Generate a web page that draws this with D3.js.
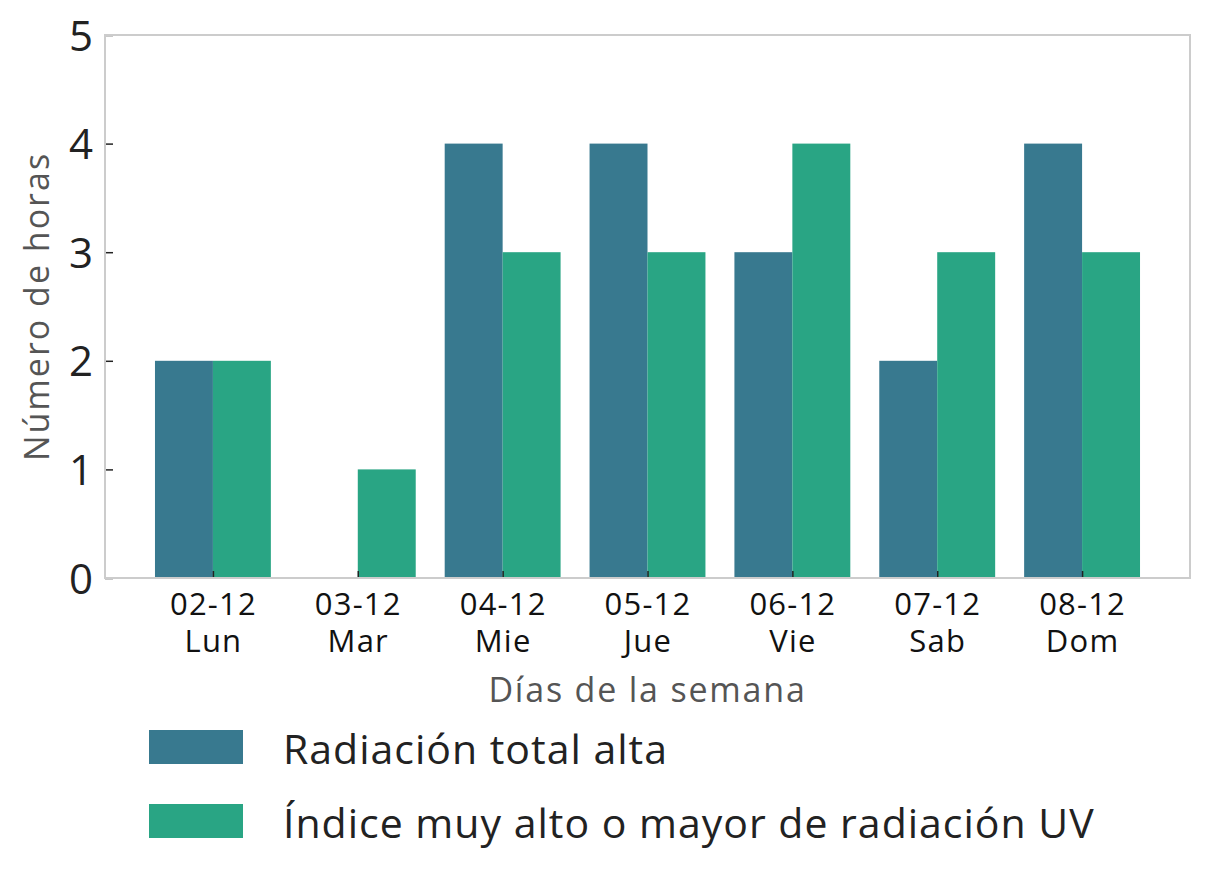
<!DOCTYPE html>
<html>
<head>
<meta charset="utf-8">
<script src="https://d3js.org/d3.v7.min.js"></script>
<style>
  body { margin: 0; background: #fff; }
  text { font-family: "Open Sans", "Noto Sans", sans-serif; }
</style>
</head>
<body>
<svg id="chart" width="1209" height="886"></svg>
<script>
// datos
var fechas = ["02-12", "03-12", "04-12", "05-12", "06-12", "07-12", "08-12"];
var dias = ["Lun", "Mar", "Mie", "Jue", "Vie", "Sab", "Dom"];
var radiacionTotal = [2, 0, 4, 4, 3, 2, 4];
var indiceUV = [2, 1, 3, 3, 4, 3, 3];
var series = ["Radiación total alta", "Índice muy alto o mayor de radiación UV"];
var colores = ["#38798f", "#29a584"];
var yTicks = [0, 1, 2, 3, 4, 5];

var svg = d3.select("#chart");
var mLeft = 105, mRight = 1190, mTop = 35, mBottom = 578;

var x = d3.scaleLinear().domain([-0.745, fechas.length - 1 + 0.745]).range([mLeft, mRight]);
var y = d3.scaleLinear().domain([0, 5]).range([mBottom, mTop]);
var w = 0.4;

// barras
[radiacionTotal, indiceUV].forEach(function(vals, s) {
  svg.append("g").selectAll("rect")
    .data(vals)
    .enter().append("rect")
      .attr("x", function(d, i) { return x(i - w + s * w); })
      .attr("width", x(w) - x(0))
      .attr("y", function(d) { return y(d); })
      .attr("height", function(d) { return y(0) - y(d); })
      .attr("fill", colores[s]);
});

// ejes
var yAxis = svg.append("g")
  .attr("transform", "translate(" + mLeft + ",0)")
  .call(d3.axisLeft(y).tickValues(yTicks).tickSize(-8).tickPadding(12).tickFormat(d3.format("d")));
yAxis.select(".domain").remove();
yAxis.selectAll("line").attr("stroke", "#222").attr("stroke-width", 1.5);
yAxis.selectAll("text").attr("font-size", 42).attr("fill", "#222").attr("dy", "0.36em");

var xAxis = svg.append("g")
  .attr("transform", "translate(0," + mBottom + ")")
  .call(d3.axisBottom(x).tickValues(d3.range(fechas.length)).tickSize(-7).tickFormat(""));
xAxis.select(".domain").remove();
xAxis.selectAll("line").attr("stroke", "#222").attr("stroke-width", 1.5);
xAxis.selectAll(".tick").each(function(d) {
  var t = d3.select(this).append("text")
    .attr("fill", "#111").attr("font-size", 31).attr("letter-spacing", 1.2)
    .attr("text-anchor", "middle");
  t.append("tspan").attr("x", 0).attr("y", 37).text(fechas[d]);
  t.append("tspan").attr("x", 0).attr("y", 74).text(dias[d]);
});

// marco
svg.append("rect")
  .attr("x", mLeft).attr("y", mTop)
  .attr("width", mRight - mLeft).attr("height", mBottom - mTop)
  .attr("fill", "none").attr("stroke", "#cccccc").attr("stroke-width", 2);

// títulos
svg.append("text")
  .attr("x", (mLeft + mRight) / 2).attr("y", 702)
  .attr("text-anchor", "middle").attr("font-size", 34).attr("letter-spacing", 1.8)
  .attr("fill", "#555")
  .text("Días de la semana");
svg.append("text")
  .attr("transform", "translate(49," + ((mTop + mBottom) / 2) + ") rotate(-90)")
  .attr("text-anchor", "middle").attr("font-size", 34).attr("letter-spacing", 2)
  .attr("fill", "#555")
  .text("Número de horas");

// leyenda
var leg = svg.append("g");
series.forEach(function(s, i) {
  leg.append("rect")
    .attr("x", 149).attr("y", 730 + i * 74)
    .attr("width", 94).attr("height", 34)
    .attr("fill", colores[i]);
  leg.append("text")
    .attr("x", 283).attr("y", 749 + i * 74).attr("dy", "0.36em")
    .attr("font-size", 41).attr("letter-spacing", 1)
    .attr("fill", "#222")
    .text(s);
});
</script>
</body>
</html>
